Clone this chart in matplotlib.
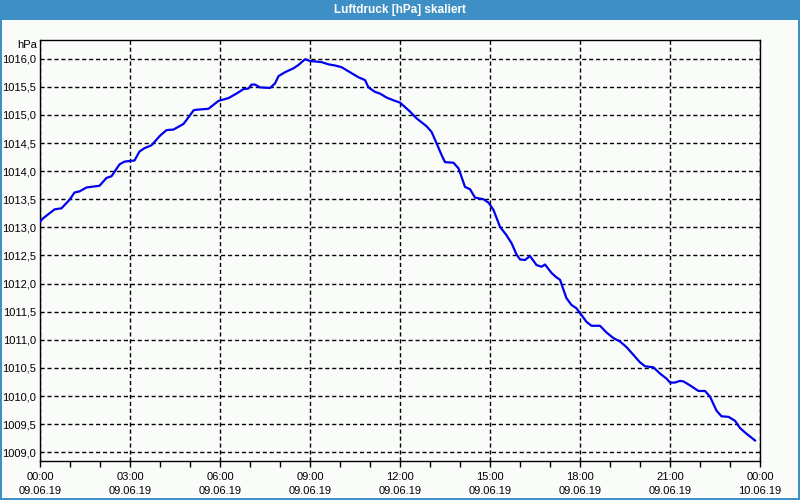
import matplotlib
matplotlib.use("Agg")
import matplotlib.pyplot as plt
from matplotlib.patches import Rectangle
from matplotlib.ticker import FixedLocator

plt.rcParams['font.family'] = ['Liberation Sans', 'DejaVu Sans']

title = "Luftdruck [hPa] skaliert"
unit_label = "hPa"

# minutes after 09.06.19 00:00
minutes = [0, 6, 29, 43, 59, 69, 79, 93, 119, 133, 143, 159, 169, 189, 199, 209, 223,
           240, 253, 267, 287, 293, 307, 310, 337, 347, 357, 377, 393, 407, 417, 423,
           430, 440, 460, 470, 477, 490, 507, 517, 530, 540, 563, 577, 590, 603, 620,
           637, 650, 657, 670, 680, 693, 710, 720, 740, 753, 773, 783, 793, 803, 810,
           827, 837, 843, 850, 860, 870, 887, 897, 907, 920, 933, 943, 953, 960, 970,
           980, 993, 1003, 1010, 1023, 1033, 1040, 1047, 1053, 1063, 1073, 1083, 1093,
           1103, 1120, 1133, 1147, 1160, 1173, 1187, 1200, 1210, 1227, 1240, 1253,
           1260, 1270, 1280, 1287, 1300, 1317, 1330, 1340, 1353, 1363, 1377, 1390,
           1400, 1413, 1430]
pressure = [1013.10, 1013.16, 1013.32, 1013.34, 1013.49, 1013.62, 1013.64, 1013.71,
            1013.74, 1013.88, 1013.91, 1014.12, 1014.17, 1014.19, 1014.35, 1014.41,
            1014.46, 1014.63, 1014.73, 1014.74, 1014.84, 1014.91, 1015.08, 1015.09,
            1015.11, 1015.18, 1015.25, 1015.30, 1015.38, 1015.46, 1015.47, 1015.54,
            1015.54, 1015.49, 1015.48, 1015.56, 1015.69, 1015.76, 1015.83, 1015.89,
            1015.99, 1015.96, 1015.94, 1015.90, 1015.88, 1015.85, 1015.76, 1015.67,
            1015.62, 1015.49, 1015.41, 1015.38, 1015.31, 1015.25, 1015.22, 1015.06,
            1014.94, 1014.80, 1014.70, 1014.50, 1014.29, 1014.16, 1014.15, 1014.05,
            1013.90, 1013.72, 1013.68, 1013.53, 1013.50, 1013.44, 1013.31, 1013.01,
            1012.86, 1012.72, 1012.52, 1012.43, 1012.42, 1012.49, 1012.33, 1012.30,
            1012.34, 1012.19, 1012.11, 1012.07, 1011.89, 1011.74, 1011.62, 1011.56,
            1011.44, 1011.32, 1011.25, 1011.25, 1011.13, 1011.03, 1010.97, 1010.87,
            1010.73, 1010.60, 1010.53, 1010.51, 1010.40, 1010.31, 1010.24, 1010.24,
            1010.27, 1010.26, 1010.19, 1010.09, 1010.09, 1009.99, 1009.74, 1009.64,
            1009.63, 1009.56, 1009.43, 1009.33, 1009.21]

x_tick_hours = [0, 3, 6, 9, 12, 15, 18, 21, 24]
x_tick_labels = ["00:00\n09.06.19", "03:00\n09.06.19", "06:00\n09.06.19",
                 "09:00\n09.06.19", "12:00\n09.06.19", "15:00\n09.06.19",
                 "18:00\n09.06.19", "21:00\n09.06.19", "00:00\n10.06.19"]
y_ticks = [1009.0, 1009.5, 1010.0, 1010.5, 1011.0, 1011.5, 1012.0, 1012.5,
           1013.0, 1013.5, 1014.0, 1014.5, 1015.0, 1015.5, 1016.0]

hours = [m / 60.0 for m in minutes]

BG = "#fafcfa"
BAR = "#3d8fc6"

fig = plt.figure(figsize=(8, 5), dpi=100, facecolor=BG)
# title bar and frame
fig.patches.append(Rectangle((0, 0.96), 1, 0.04, transform=fig.transFigure,
                             facecolor=BAR, edgecolor="none", zorder=0))
for (x0, y0, w, h) in [(0, 0, 0.0025, 1), (0.9975, 0, 0.0025, 1), (0, 0, 1, 0.004)]:
    fig.patches.append(Rectangle((x0, y0), w, h, transform=fig.transFigure,
                                 facecolor=BAR, edgecolor="none", zorder=0))
fig.text(0.5, 0.98, title, color="white", fontweight="bold", fontsize=8.5,
         ha="center", va="center")

ax = fig.add_axes([0.05, 0.0786, 0.90, 0.8414])
ax.set_facecolor(BG)
ax.plot(hours, pressure, color="#0000ee", linewidth=1.6, zorder=3)

ax.set_xlim(0, 24)
ax.set_ylim(1008.85, 1016.333)

ax.set_xticks(x_tick_hours)
ax.set_xticklabels(x_tick_labels, fontsize=8, linespacing=1.55)
ax.xaxis.set_minor_locator(FixedLocator([h for h in range(25) if h % 3 != 0]))
ax.set_yticks(y_ticks)
ax.set_yticklabels([f"{v:.1f}".replace(".", ",") for v in y_ticks], fontsize=8)

ax.tick_params(axis="x", which="both", direction="out", length=4, width=1,
               color="black", pad=4)
ax.tick_params(axis="y", which="both", length=0, pad=3)

ax.grid(True, which="major", color="black", linestyle=(0, (3, 2)), linewidth=1)
for s in ax.spines.values():
    s.set_color("black")
    s.set_linewidth(1)

fig.text(0.046, 0.91, unit_label, fontsize=8, ha="right", va="center")

fig.savefig("out.png", dpi=100, facecolor=BG)
